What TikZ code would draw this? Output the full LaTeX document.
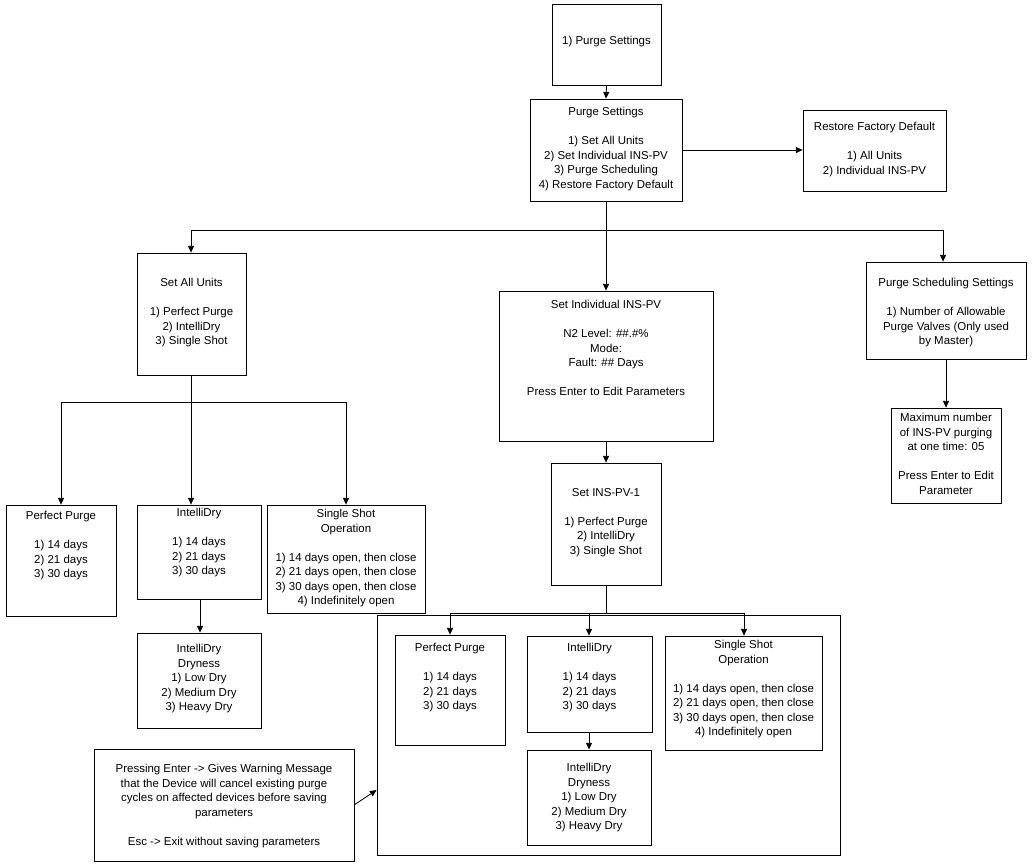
\documentclass[tikz,border=0pt]{standalone}
\usepackage{fontspec}
\setmainfont{Liberation Sans}
\usetikzlibrary{arrows.meta,fit}
\begin{document}
\begin{tikzpicture}[x=0.75pt,y=-0.75pt,
  box/.style={draw,line width=0.6pt,inner sep=0pt,fit=#1},
  txt/.style={anchor=north,align=center,inner sep=0pt,font=\fontsize{8.6}{10.9}\selectfont},
  con/.style={line width=0.6pt},
  arr/.style={line width=0.6pt,-{Triangle[length=5pt,width=4.5pt]}}]
\useasboundingbox (0,0) rectangle (1034,867);
\newcommand\bx[7]{%
  \coordinate (#1a) at (#2,#3); \coordinate (#1b) at (#4,#5);
  \node[box=(#1a)(#1b)] (#1) {};
  \node[txt] (#1t) at ({(#2+#4)/2},#6) {#7};}
\bx{ps}{552}{4}{661}{85}{36}{1) Purge Settings}
\bx{pm}{530}{99}{682}{201}{107}{Purge Settings\\[10.9pt]1) Set All Units\\2) Set Individual INS-PV\\3) Purge Scheduling\\4) Restore Factory Default}
\bx{rf}{803}{110}{946}{191}{122}{Restore Factory Default\\[10.9pt]1) All Units\\2) Individual INS-PV}
\bx{sa}{137}{253}{246}{375}{278}{Set All Units\\[10.9pt]1) Perfect Purge\\2) IntelliDry\\3) Single Shot}
\bx{si}{499}{291}{713}{441}{300}{Set Individual INS-PV\\[10.9pt]N2 Level: \#\#.\#\%\\Mode:\\Fault: \#\# Days\\[10.9pt]Press Enter to Edit Parameters}
\bx{pss}{866}{262}{1026}{359}{278}{Purge Scheduling Settings\\[10.9pt]1) Number of Allowable\\Purge Valves (Only used\\by Master)}
\bx{mx}{891}{408}{1001}{503}{413}{Maximum number\\of INS-PV purging\\at one time: 05\\[10.9pt]Press Enter to Edit\\Parameter}
\bx{pp}{6}{505}{116}{616}{511}{Perfect Purge\\[10.9pt]1) 14 days\\2) 21 days\\3) 30 days}
\bx{id}{137}{505}{261}{599}{508}{IntelliDry\\[10.9pt]1) 14 days\\2) 21 days\\3) 30 days}
\bx{ss}{267}{505}{425}{613}{509}{Single Shot\\Operation\\[10.9pt]1) 14 days open, then close\\2) 21 days open, then close\\3) 30 days open, then close\\4) Indefinitely open}
\bx{dr}{137}{633}{261}{728}{644}{IntelliDry\\Dryness\\1) Low Dry\\2) Medium Dry\\3) Heavy Dry}
\bx{sp}{551}{463}{661}{585}{488}{Set INS-PV-1\\[10.9pt]1) Perfect Purge\\2) IntelliDry\\3) Single Shot}
\coordinate (fra) at (377,615); \coordinate (frb) at (840,855);
\node[box=(fra)(frb)] (fr) {};
\bx{pp2}{395}{635}{505}{745}{643}{Perfect Purge\\[10.9pt]1) 14 days\\2) 21 days\\3) 30 days}
\bx{id2}{527}{636}{652}{732}{643}{IntelliDry\\[10.9pt]1) 14 days\\2) 21 days\\3) 30 days}
\bx{ss2}{665}{636}{822}{750}{640}{Single Shot\\Operation\\[10.9pt]1) 14 days open, then close\\2) 21 days open, then close\\3) 30 days open, then close\\4) Indefinitely open}
\bx{dr2}{527}{750}{651}{845}{763}{IntelliDry\\Dryness\\1) Low Dry\\2) Medium Dry\\3) Heavy Dry}
\bx{nt}{94}{749}{354}{861}{764}{Pressing Enter -{}> Gives Warning Message\\that the Device will cancel existing purge\\cycles on affected devices before saving\\parameters\\[10.9pt]Esc -{}> Exit without saving parameters}
% connectors
\draw[arr] (ps.south) -- (pm.north);
\draw[arr] (pm.east) -- (rf.west |- pm.east);
\coordinate (j1) at (606,230);
\draw[arr] (pm.south) -- (si.north);
\draw[con] (191,230) -- (943,230);
\draw[arr] (191,230) -- (sa.north -| 191,0);
\draw[arr] (943,230) -- (pss.north -| 943,0);
\coordinate (j2) at (191,402);
\draw[con] (sa.south -| j2) -- (j2);
\draw[con] (61,402) -- (346,402);
\draw[arr] (61,402) -- (pp.north -| 61,0);
\draw[arr] (j2) -- (id.north -| j2);
\draw[arr] (346,402) -- (ss.north -| 346,0);
\draw[arr] (id.south -| 200,0) -- (dr.north -| 200,0);
\draw[arr] (pss.south -| 946,0) -- (mx.north -| 946,0);
\draw[arr] (si.south -| 606,0) -- (sp.north -| 606,0);
\coordinate (j3) at (606,613);
\draw[con] (sp.south -| j3) -- (j3);
\draw[con] (450,613) -- (744,613);
\draw[arr] (450,613) -- (pp2.north -| 450,0);
\draw[arr] (589,613) -- (id2.north -| 589,0);
\draw[arr] (744,613) -- (ss2.north -| 744,0);
\draw[arr] (id2.south -| 589,0) -- (dr2.north -| 589,0);
\coordinate (ntp) at (354,805);
\draw[arr] (ntp) -- (fr.west |- 0,790);
\end{tikzpicture}
\end{document}
